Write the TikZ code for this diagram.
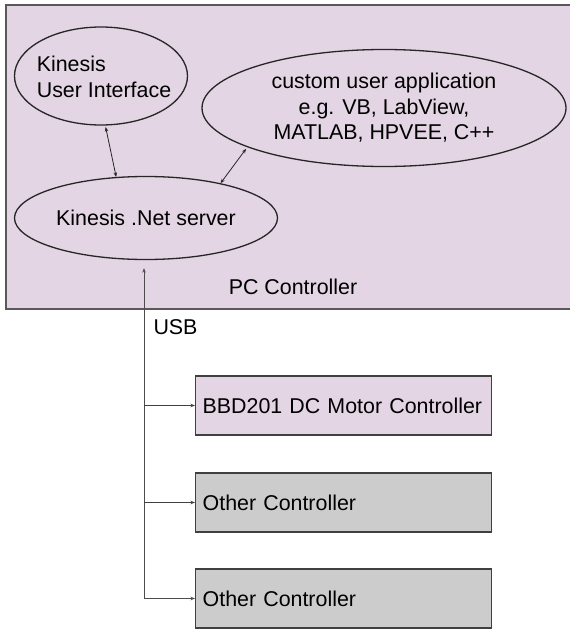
\documentclass[tikz,border=0pt]{standalone}
\usepackage{fontspec}
\setmainfont{Liberation Sans}
\usetikzlibrary{arrows.meta,shapes.geometric}
\definecolor{pcpink}{RGB}{227,213,227}
\definecolor{boxgray}{RGB}{204,204,204}
\begin{document}
\begin{tikzpicture}[x=1pt,y=-1pt,font=\fontsize{21.4}{25.5}\selectfont,
  oval/.style={ellipse,draw=black!85,line width=1.3pt,inner sep=0pt},
  ctrl/.style={draw=black!75,line width=1.3pt,minimum height=59pt,text width=282pt,inner xsep=7pt,align=left,anchor=west},
  tip/.style={-{Stealth[length=4.5pt,width=3.5pt]},draw=black!75,line width=0.8pt},
  link/.style={{Stealth[length=4.5pt,width=3.5pt]}-{Stealth[length=4.5pt,width=3.5pt]},draw=black!85,line width=0.8pt}]
\useasboundingbox (0,0) rectangle (570,629);
\node[draw=black!65,fill=pcpink,line width=1.5pt,minimum width=569pt,minimum height=304pt,inner sep=0pt] (pcbox) at (290.5,157) {};
\node[oval,minimum width=173pt,minimum height=98pt] (ui) at (101,76) {};
\node[align=left] (uitext) at (104,77) {Kinesis\\User Interface};
\node[oval,minimum width=364pt,minimum height=117pt,align=center] (app) at (384,108) {custom user application\\e.g. VB, LabView,\\MATLAB, HPVEE, C++};
\node[oval,minimum width=263pt,minimum height=83pt] (net) at (146,218) {Kinesis .Net server};
\node (pc) at (293,287) {PC Controller};
\node (usb) at (175.5,327) {USB};
\node[ctrl,fill=pcpink] (c1) at (195,405.5) {BBD201 DC Motor Controller};
\node[ctrl,fill=boxgray] (c2) at (195,502.5) {Other Controller};
\node[ctrl,fill=boxgray] (c3) at (195,598.5) {Other Controller};
\draw[link,shorten <=1.5pt] (ui.-85) -- (net.126);
\draw[link,shorten <=2pt] (app.196) -- (net.25);
\coordinate (bus) at (144,0);
\draw[link,draw=black!70,shorten <=8pt] (bus |- net.south) -- (bus |- c3.west) -- (c3.west);
\foreach \c in {c1,c2}
  \draw[tip] (bus |- \c.west) -- (\c.west);
\end{tikzpicture}
\end{document}
